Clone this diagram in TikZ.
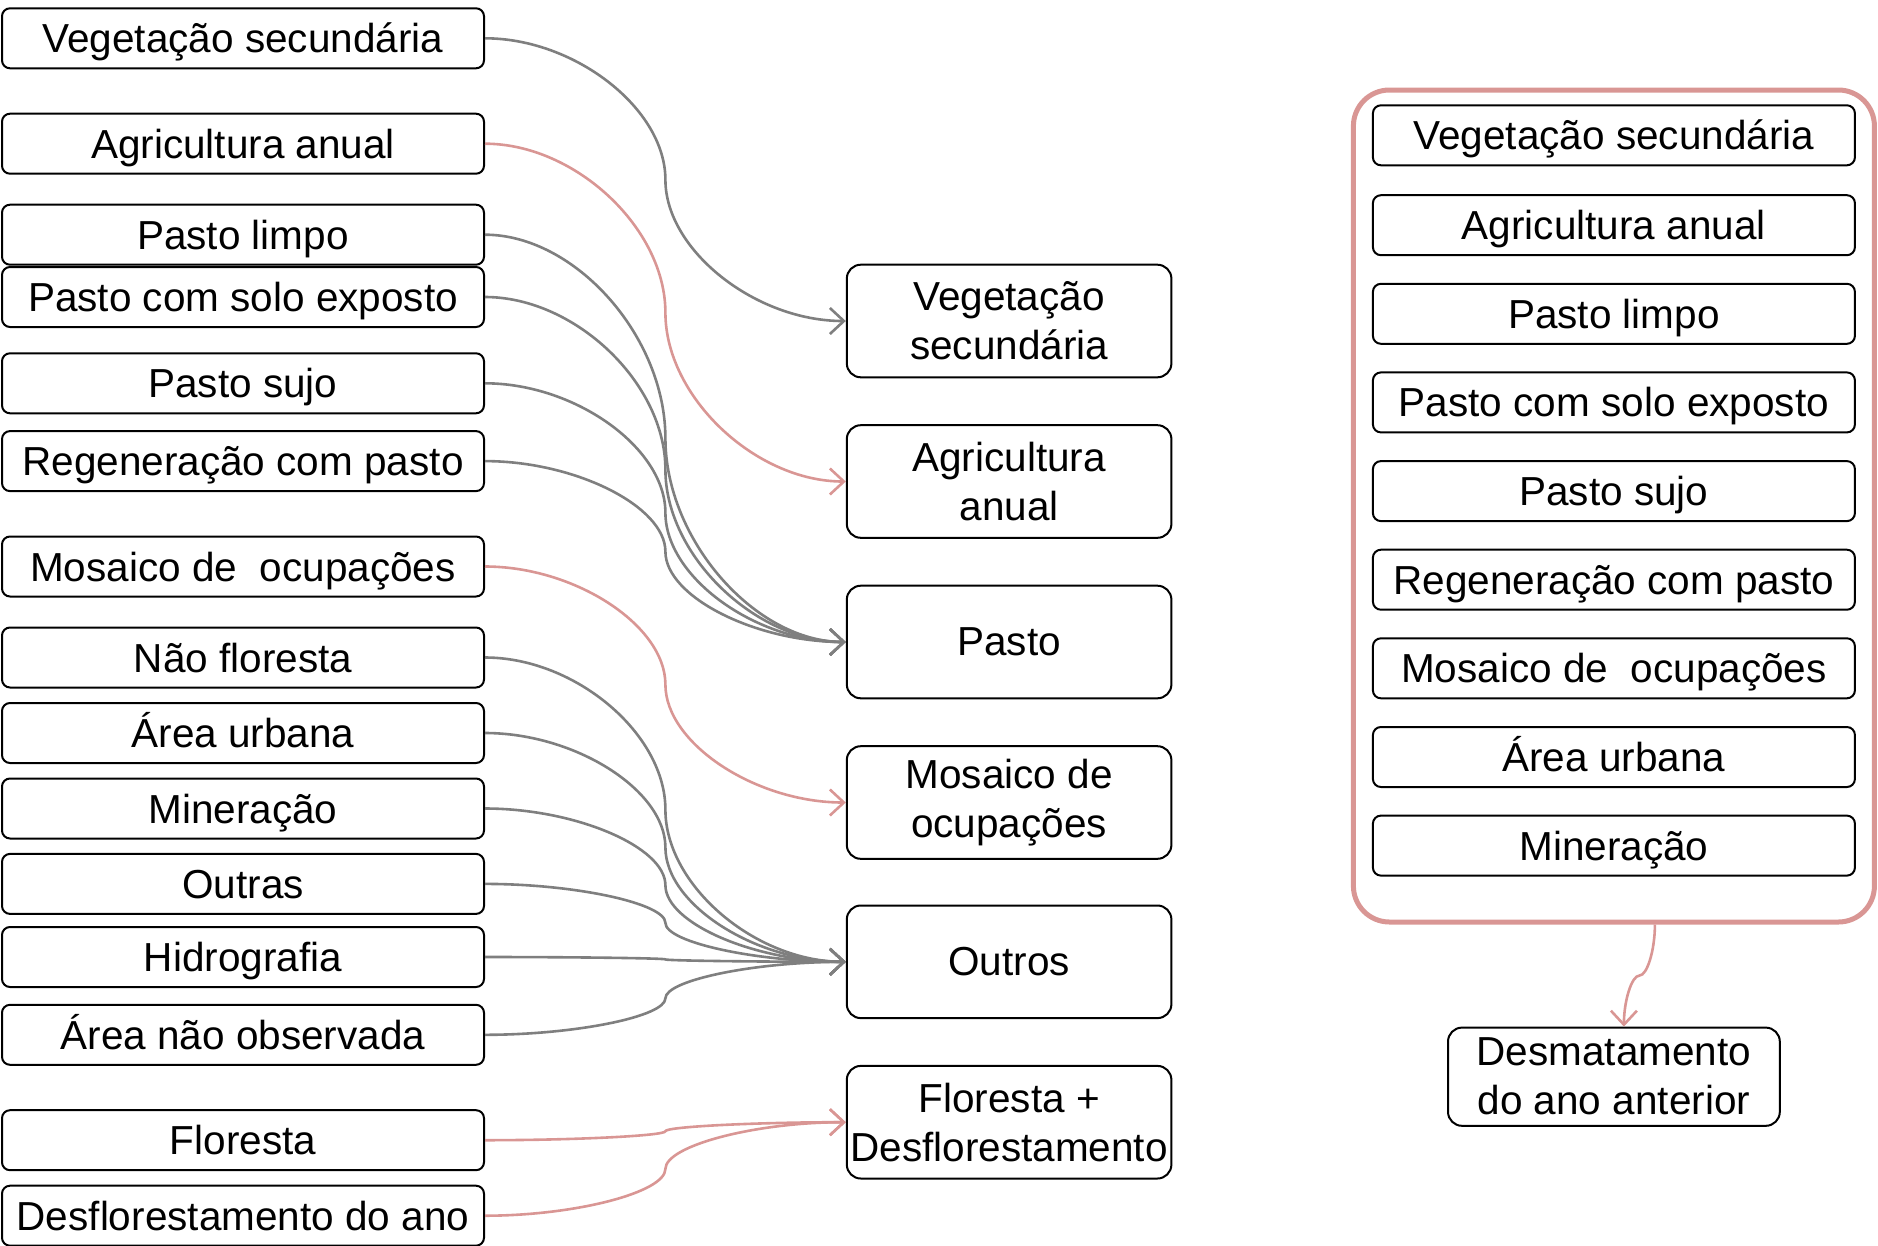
\documentclass[tikz,border=0pt]{standalone}
\usepackage{fontspec}
\setmainfont{Liberation Sans}
\usetikzlibrary{arrows.meta,calc}
\definecolor{linegray}{HTML}{7F7F7F}
\definecolor{linepink}{HTML}{D99694}
\tikzset{
  classbox/.style={draw, rounded corners=8pt, line width=2pt, minimum width=482pt,
    minimum height=60pt, inner sep=0pt, font=\fontsize{40.5}{49}\selectfont,
    text height=29pt, text depth=0pt},
  groupbox/.style={draw, rounded corners=14pt, line width=2pt, minimum width=324.6pt,
    minimum height=112.6pt, inner sep=0pt, align=center,
    font=\fontsize{40.5}{49}\selectfont},
  prevbox/.style={draw=linepink, line width=5pt, rounded corners=36pt,
    minimum width=521pt, minimum height=832pt},
  gline/.style={draw=linegray, line width=2.6pt,
    -{Straight Barb[length=14pt,width=26pt]}},
  pline/.style={draw=linepink, line width=2.6pt,
    -{Straight Barb[length=14pt,width=26pt]}},
  hcurve/.style={to path={let \p1=(\tikztostart), \p2=(\tikztotarget) in
    .. controls ({0.75*\x1+0.25*\x2},\y1) and ({0.5*\x1+0.5*\x2},{0.75*\y1+0.25*\y2})
    .. ({0.5*\x1+0.5*\x2},{0.5*\y1+0.5*\y2})
    .. controls ({0.5*\x1+0.5*\x2},{0.25*\y1+0.75*\y2}) and ({0.25*\x1+0.75*\x2},\y2)
    .. (\p2)}},
  vcurve/.style={to path={let \p1=(\tikztostart), \p2=(\tikztotarget) in
    .. controls (\x1,{0.75*\y1+0.25*\y2}) and ({0.75*\x1+0.25*\x2},{0.5*\y1+0.5*\y2})
    .. ({0.5*\x1+0.5*\x2},{0.5*\y1+0.5*\y2})
    .. controls ({0.25*\x1+0.75*\x2},{0.5*\y1+0.5*\y2}) and (\x2,{0.25*\y1+0.75*\y2})
    .. (\p2)}}
}
\begin{document}
\begin{tikzpicture}[x=1pt,y=-1pt]
  \useasboundingbox (0,0) rectangle (1878,1245);
  % classes de origem
  \path[every node/.style=classbox]
    (243,38.3)   node (vs)  {Vegetação secundária}
    (243,143.7)  node (aa)  {Agricultura anual}
    (243,234.7)  node (pl)  {Pasto limpo}
    (243,297)    node (pse) {Pasto com solo exposto}
    (243,383.3)  node (ps)  {Pasto sujo}
    (243,461.1)  node (rp)  {Regeneração com pasto}
    (243,566.5)  node (mo)  {Mosaico de\ \ ocupações}
    (243,657.5)  node (nf)  {Não floresta}
    (243,733)    node (au)  {Área urbana}
    (243,808.5)  node (mi)  {Mineração}
    (243,883.9)  node (ou)  {Outras}
    (243,957)    node (hi)  {Hidrografia}
    (243,1034.8) node (ano) {Área não observada}
    (243,1140.2) node (fl)  {Floresta}
    (243,1215.7) node (da)  {Desflorestamento do ano};
  % classes agrupadas
  \path[every node/.style=groupbox]
    (1009.1,321)    node (mvs) {Vegetação\\secundária}
    (1009.1,481.5)  node (maa) {Agricultura\\anual}
    (1009.1,642)    node (mpa) {Pasto}
    (1009.1,802.5)  node (mmo) {Mosaico de\\ocupações}
    (1009.1,961.8)  node (mou) {Outros}
    (1009.1,1122.2) node (mfd) {Floresta +\\Desflorestamento};
  % ano anterior
  \node[prevbox] (prev) at (1613.9,506) {};
  \path[every node/.style=classbox]
    (1613.9,135.3) node (rvs)  {Vegetação secundária}
    (1613.9,225.2) node (raa)  {Agricultura anual}
    (1613.9,313.8) node (rpl)  {Pasto limpo}
    (1613.9,402.4) node (rpse) {Pasto com solo exposto}
    (1613.9,491.1) node (rps)  {Pasto sujo}
    (1613.9,579.7) node (rrp)  {Regeneração com pasto}
    (1613.9,668.3) node (rmo)  {Mosaico de\ \ ocupações}
    (1613.9,757)   node (rau)  {Área urbana}
    (1613.9,845.6) node (rmi)  {Mineração};
  \node[groupbox, minimum width=331.8pt, minimum height=98.2pt] (desm)
    at (1613.9,1076.7) {Desmatamento\\do ano anterior};
  \begin{scope}[gline]
    \draw (vs.east) to[hcurve] (mvs.west);
    \draw (pl.east) to[hcurve] (mpa.west);
    \draw (pse.east) to[hcurve] (mpa.west);
    \draw (ps.east) to[hcurve] (mpa.west);
    \draw (rp.east) to[hcurve] (mpa.west);
    \draw (nf.east) to[hcurve] (mou.west);
    \draw (au.east) to[hcurve] (mou.west);
    \draw (mi.east) to[hcurve] (mou.west);
    \draw (ou.east) to[hcurve] (mou.west);
    \draw (hi.east) to[hcurve] (mou.west);
    \draw (ano.east) to[hcurve] (mou.west);
  \end{scope}
  \begin{scope}[pline]
    \draw (aa.east) to[hcurve] (maa.west);
    \draw (mo.east) to[hcurve] (mmo.west);
    \draw (fl.east) to[hcurve] (mfd.west);
    \draw (da.east) to[hcurve] (mfd.west);
    \draw ([xshift=41pt]prev.south) to[vcurve] ([xshift=10pt]desm.north);
  \end{scope}
\end{tikzpicture}
\end{document}
